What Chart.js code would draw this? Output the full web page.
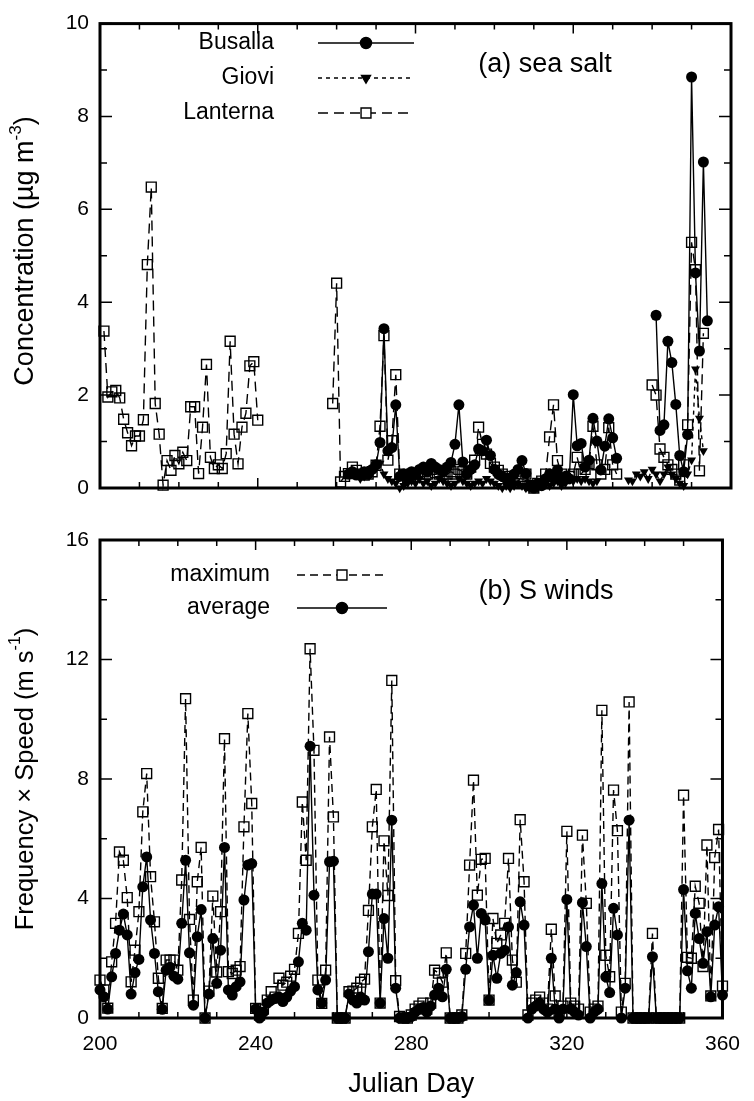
<!DOCTYPE html>
<html>
<head>
<meta charset="utf-8">
<script src="https://cdn.jsdelivr.net/npm/chart.js@4.4.1/dist/chart.umd.min.js"></script>
<style>
  html, body { margin: 0; padding: 0; background: #fff; }
  #wrap { position: relative; width: 754px; height: 1101px; }
  #saltChart { position: absolute; left: 0; top: 0; }
  #windChart { position: absolute; left: 0; top: 515px; }
</style>
</head>
<body>
<div id="wrap">
  <canvas id="saltChart" width="754" height="515"></canvas>
  <canvas id="windChart" width="754" height="586"></canvas>
</div>
<script>
// Font
const FONT = "'Liberation Sans', Arial, Helvetica, sans-serif";

// (a) sea salt, ug m-3, one value per Julian day (null = no sample)
const lanternaStart = 201;
const lanterna = [
  3.38, 1.96, 2.07, 2.1, 1.94, 1.48, 1.19, 0.91, 1.12, 1.12,
  1.47, 4.81, 6.48, 1.82, 1.16, 0.06, 0.59, 0.38, 0.7, 0.52,
  0.77, 0.59, 1.75, 1.75, 0.31, 1.31, 2.66, 0.66, 0.42, 0.5,
  0.42, 0.74, 3.16, 1.16, 0.52, 1.31, 1.61, 2.63, 2.72, 1.46,
  null, null, null, null, null, null, null, null, null, null,
  null, null, null, null, null, null, null, null,
  1.82, 4.41, 0.13, 0.25, 0.31, 0.45, 0.38, 0.3, 0.28, 0.3,
  0.35, 0.49, 1.33, 3.28, 0.6, 1.02, 2.44, 0.3, 0.28, 0.22,
  0.3, 0.25, 0.3, 0.35, 0.3, 0.4, 0.33, 0.3, 0.25, 0.3,
  0.35, 0.3, 0.4, 0.35, 0.3, 0.45, 0.6, 1.31, 0.94, 0.73,
  0.53, 0.45, 0.38, 0.3, 0.25, 0.2, 0.1, 0.15, 0.25, 0.3,
  0.05, 0.0, 0.1, 0.15, 0.3, 1.1, 1.79, 0.59, 0.3, 0.2,
  0.25, 0.3, 0.66, 0.3, 0.4, 0.52, 1.33, 0.5, 0.3, 0.4,
  1.3, 0.5, 0.3,
  null, null, null, null, null, null, null, null,
  2.22, 2.0, 0.84, 0.66, 0.5, 0.4, 0.3, 0.17, 0.5, 1.36,
  5.29, 4.7, 0.37, 3.33
];

const busallaStart = 263;
const busalla = [
  0.3, 0.35, 0.28, 0.3, 0.35, 0.3, 0.4, 0.5, 0.98, 3.43,
  0.8, 0.87, 1.79, 0.25, 0.3, 0.2, 0.35, 0.3, 0.4, 0.45,
  0.35, 0.53, 0.45, 0.4, 0.35, 0.45, 0.55, 0.94, 1.79, 0.56,
  0.3, 0.4, 0.5, 0.84, 0.8, 1.03, 0.7, 0.4, 0.3, 0.25,
  0.2, 0.15, 0.3, 0.4, 0.59, 0.31, 0.05, 0.0, 0.1, 0.05,
  0.2, 0.3, 0.25, 0.39, 0.2, 0.25, 0.2, 2.01, 0.91, 0.96,
  0.45, 0.6, 1.5, 1.01, 0.39, 0.9, 1.49, 1.08, 0.64,
  null, null, null, null, null, null, null, null, null,
  3.72, 1.24, 1.36, 3.16, 2.7, 1.8, 0.7, 0.35, 1.15, 8.85,
  4.63, 2.95, 7.02, 3.6
];

const gioviStart = 266;
const giovi = [
  0.2, 0.25, 0.3, 0.35, 0.5, 0.53, 0.3, 0.2, 0.15, 0.1,
  0.0, 0.05, 0.1, 0.15, 0.1, 0.2, 0.1, 0.15, 0.05, 0.1,
  0.2, 0.15, 0.1, 0.05, 0.1, 0.2, 0.15, 0.1, 0.05, 0.1,
  0.15, 0.1, 0.2, 0.15, 0.1, 0.05, 0.0, 0.05, 0.0, 0.05,
  0.1, 0.05, 0.0, 0.0, 0.05, 0.0, 0.05, 0.1, 0.05, 0.1,
  0.15, 0.05, 0.1, 0.2, 0.15, 0.2, 0.15, 0.2, 0.15, 0.1,
  0.15,
  null, null, null, null, null, null, null,
  0.17, 0.15, 0.3, 0.25, 0.35, 0.2, 0.4, 0.3, 0.15, 0.3,
  0.45, 0.3, 0.2, 0.1, 0.05, 0.3, 0.6, 2.56, 1.5, 0.8
];

// (b) S winds, frequency x speed (m s-1), days 200..360
const windStart = 200;
const windMax = [
  1.27, 0.94, 0.33, 1.88, 3.17, 5.56, 5.28, 4.03, 1.21, 2.27,
  3.56, 6.9, 8.18, 4.73, 3.22, 1.33, 0.32, 1.94, 1.94, 1.94,
  1.6, 4.62, 10.69, 3.3, 0.6, 4.56, 5.71, 0, 0.9, 4.08,
  1.54, 3.56, 9.35, 1.55, 1.49, 1.6, 1.72, 6.4, 10.19, 7.18,
  0.32, 0.1, 0.3, 0.6, 0.88, 0.7, 1.33, 1.1, 1.2, 1.4,
  1.63, 2.83, 7.23, 5.28, 12.36, 8.96, 1.27, 0.49, 1.6, 9.41,
  6.73, 0, 0, 0, 0.88, 0.9, 1.0, 1.2, 1.3, 3.6,
  6.4, 7.65, 0.5, 5.93, 4.1, 11.3, 1.25, 0.05, 0, 0,
  0.1, 0.3, 0.4, 0.5, 0.3, 0.5, 1.6, 1.5, 1.2, 2.18,
  0, 0, 0, 0.1, 2.16, 5.12, 7.96, 4.11, 5.31, 5.34,
  0.6, 3.33, 2.5, 2.78, 3.17, 5.34, 1.94, 1.2, 6.64, 4.56,
  0.1, 0.5, 0.6, 0.7, 0.5, 0.3, 2.97, 0.74, 0.2, 0.4,
  6.25, 0.5, 0.4, 0.3, 6.12, 3.84, 0.2, 0.3, 0.4, 10.3,
  2.1, 1.38, 7.63, 6.27, 0.2, 1.16, 10.58, 0, 0, 0,
  0, 0, 2.83, 0, 0, 0, 0, 0, 0, 0,
  7.46, 2.03, 2.0, 4.41, 3.84, 1.72, 5.79, 0.74, 5.37, 6.31,
  1.07
];
const windAvg = [
  0.94, 0.71, 0.3, 1.38, 2.16, 2.94, 3.48, 2.78, 0.8, 1.52,
  1.96, 4.39, 5.39, 3.28, 2.16, 0.88, 0.29, 1.6, 1.7, 1.4,
  1.3, 3.17, 5.28, 2.18, 0.43, 2.72, 3.63, 0, 0.8, 2.66,
  1.16, 2.27, 5.71, 0.94, 0.77, 1.05, 1.21, 3.95, 5.12, 5.17,
  0.3, 0, 0.2, 0.5, 0.6, 0.65, 0.7, 0.55, 0.7, 0.9,
  1.05, 1.88, 3.17, 2.94, 9.1, 4.11, 0.94, 0.5, 1.27, 5.23,
  5.25, 0, 0, 0, 0.8, 0.6, 0.5, 0.7, 0.6, 2.22,
  4.15, 4.15, 0.5, 3.33, 2.0, 6.62, 1.0, 0, 0, 0,
  0.05, 0.2, 0.3, 0.35, 0.2, 0.4, 0.77, 1.0, 0.71, 1.63,
  0, 0, 0, 0.05, 1.63, 3.05, 3.78, 2.0, 3.5, 3.28,
  0.6, 2.1, 1.33, 2.16, 2.27, 3.05, 1.1, 1.52, 3.89, 3.11,
  0, 0.3, 0.4, 0.5, 0.3, 0.2, 2.0, 0.3, 0, 0.3,
  3.97, 0.3, 0.2, 0.1, 3.86, 2.39, 0, 0.2, 0.3, 4.5,
  1.38, 0.85, 3.67, 2.78, 0, 1.0, 6.62, 0, 0, 0,
  0, 0, 2.05, 0, 0, 0, 0, 0, 0, 0,
  4.3, 1.58, 1.0, 3.5, 2.66, 1.83, 2.89, 0.71, 3.11, 3.72,
  0.77
];

// Turn a start day + daily values into {x, y} points
function toPoints(start, vals) {
  return vals.map((v, i) => ({ x: start + i, y: v }));
}

// Frame, inward ticks, legend, panel label and axis titles
const panelDecor = {
  id: "panelDecor",
  beforeDatasetsDraw(chart, args, opts) {
    const { ctx, chartArea: a } = chart;
    const xs = chart.scales.x;
    const ys = chart.scales.y;
    ctx.save();
    ctx.strokeStyle = "#000";
    ctx.lineWidth = 1.5;
    ctx.beginPath();
    for (let v = xs.min; v <= xs.max; v += 10) {
      const px = xs.getPixelForValue(v);
      const len = v % 40 === 0 ? 10 : 6;
      ctx.moveTo(px, a.bottom);
      ctx.lineTo(px, a.bottom - len);
      ctx.moveTo(px, a.top);
      ctx.lineTo(px, a.top + len);
    }
    for (let v = ys.min; v <= ys.max; v += opts.yMinor) {
      const py = ys.getPixelForValue(v);
      const len = v % opts.yMajor === 0 ? 12 : 7;
      ctx.moveTo(a.left, py);
      ctx.lineTo(a.left + len, py);
      ctx.moveTo(a.right, py);
      ctx.lineTo(a.right - len, py);
    }
    ctx.stroke();
    ctx.lineWidth = 3;
    ctx.strokeRect(a.left, a.top, a.right - a.left, a.bottom - a.top);
    ctx.restore();
  },
  afterDraw(chart, args, opts) {
    const { ctx, chartArea: a } = chart;
    ctx.save();
    ctx.fillStyle = "#000";
    ctx.strokeStyle = "#000";
    ctx.textBaseline = "middle";

    // legend rows
    ctx.font = "23px " + FONT;
    opts.legend.forEach((row) => {
      ctx.textAlign = "right";
      ctx.fillText(row.text, row.textX, row.y);
      ctx.setLineDash(row.dash);
      ctx.lineWidth = 1.4;
      ctx.beginPath();
      ctx.moveTo(row.x0, row.y);
      ctx.lineTo(row.x1, row.y);
      ctx.stroke();
      ctx.setLineDash([]);
      ctx.fillStyle = row.fill;
      Chart.helpers.drawPoint(ctx, {
        pointStyle: row.style,
        radius: row.radius,
        rotation: row.rotation || 0,
        borderWidth: 1.4,
      }, (row.x0 + row.x1) / 2, row.y);
      ctx.fillStyle = "#000";
    });

    // panel label
    ctx.font = "27px " + FONT;
    ctx.textAlign = "center";
    ctx.fillText(opts.label, opts.labelX, opts.labelY);

    // rotated y title with superscript
    ctx.translate(opts.yTitleX, opts.yTitleY);
    ctx.rotate(-Math.PI / 2);
    const mainFont = opts.yTitleSize + "px " + FONT;
    const supFont = Math.round(opts.yTitleSize * 0.63) + "px " + FONT;
    ctx.font = mainFont;
    const w1 = ctx.measureText(opts.yTitle[0]).width;
    const w3 = ctx.measureText(opts.yTitle[2]).width;
    ctx.font = supFont;
    const w2 = ctx.measureText(opts.yTitle[1]).width;
    let x = -(w1 + w2 + w3) / 2;
    ctx.textAlign = "left";
    ctx.font = mainFont;
    ctx.fillText(opts.yTitle[0], x, 0);
    x += w1;
    ctx.font = supFont;
    ctx.fillText(opts.yTitle[1], x, -10);
    x += w2;
    ctx.font = mainFont;
    ctx.fillText(opts.yTitle[2], x, 0);
    ctx.restore();

    if (opts.xTitle) {
      ctx.save();
      ctx.font = "27px " + FONT;
      ctx.fillStyle = "#000";
      ctx.textAlign = "center";
      ctx.textBaseline = "middle";
      ctx.fillText(opts.xTitle, (a.left + a.right) / 2, opts.xTitleY);
      ctx.restore();
    }
  },
};

function lineSet(label, points, style) {
  return Object.assign({
    label: label,
    data: points,
    borderColor: "#000",
    borderWidth: 1.4,
    pointBorderColor: "#000",
    tension: 0,
    spanGaps: false,
    clip: 12,
  }, style);
}

const circleStyle = {
  pointStyle: "circle",
  pointRadius: 5.5,
  pointBackgroundColor: "#000",
  pointBorderWidth: 0,
};
const squareStyle = {
  pointStyle: "rect",
  pointRadius: 7,
  pointBackgroundColor: "rgba(0,0,0,0)",
  pointBorderWidth: 1.4,
};
const triangleStyle = {
  pointStyle: "triangle",
  pointRadius: 5.2,
  pointRotation: 180,
  pointBackgroundColor: "#000",
  pointBorderWidth: 0,
};

function yAxis(max, step) {
  return {
    min: 0,
    max: max,
    ticks: { stepSize: step, color: "#000", padding: 11, font: { family: FONT, size: 21 } },
    grid: { display: false, drawTicks: false },
    border: { display: false },
    afterFit(scale) { scale.width = 100; },
  };
}

// Top panel: sea salt
new Chart(document.getElementById("saltChart"), {
  type: "line",
  data: {
    datasets: [
      lineSet("Busalla", toPoints(busallaStart, busalla), Object.assign({ order: 0 }, circleStyle)),
      lineSet("Giovi", toPoints(gioviStart, giovi), Object.assign({ order: 1, borderDash: [4, 4] }, triangleStyle)),
      lineSet("Lanterna", toPoints(lanternaStart, lanterna), Object.assign({ order: 2, borderDash: [10, 6] }, squareStyle)),
    ],
  },
  options: {
    responsive: false,
    animation: false,
    devicePixelRatio: 1,
    layout: { padding: { top: 14, right: 23, bottom: 27, left: 0 } },
    plugins: {
      legend: { display: false },
      tooltip: { enabled: false },
      panelDecor: {
        yMinor: 1,
        yMajor: 2,
        label: "(a) sea salt",
        labelX: 545,
        labelY: 65,
        yTitle: ["Concentration (\u00b5g m", "-3", ")"],
        yTitleSize: 27,
        yTitleX: 26,
        yTitleY: 251,
        legend: [
          { text: "Busalla", textX: 274, y: 43, x0: 318, x1: 414, dash: [], style: "circle", radius: 5.5, fill: "#000" },
          { text: "Giovi", textX: 274, y: 78, x0: 318, x1: 414, dash: [4, 4], style: "triangle", radius: 5.2, rotation: 180, fill: "#000" },
          { text: "Lanterna", textX: 274, y: 113, x0: 318, x1: 414, dash: [10, 6], style: "rect", radius: 7, fill: "#fff" },
        ],
      },
    },
    scales: {
      x: { type: "linear", min: 200, max: 360, display: false },
      y: yAxis(10, 2),
    },
  },
  plugins: [panelDecor],
});

// Bottom panel: S winds
new Chart(document.getElementById("windChart"), {
  type: "line",
  data: {
    datasets: [
      lineSet("average", toPoints(windStart, windAvg), Object.assign({ order: 0 }, circleStyle)),
      lineSet("maximum", toPoints(windStart, windMax), Object.assign({ order: 1, borderDash: [8, 5] }, squareStyle)),
    ],
  },
  options: {
    responsive: false,
    animation: false,
    devicePixelRatio: 1,
    layout: { padding: { top: 25, right: 23, bottom: 0, left: 0 } },
    plugins: {
      legend: { display: false },
      tooltip: { enabled: false },
      panelDecor: {
        yMinor: 2,
        yMajor: 4,
        label: "(b) S winds",
        labelX: 546,
        labelY: 77,
        yTitle: ["Frequency \u00d7 Speed (m s", "-1", ")"],
        yTitleSize: 25.5,
        yTitleX: 26,
        yTitleY: 264,
        xTitle: "Julian Day",
        xTitleY: 570,
        legend: [
          { text: "maximum", textX: 270, y: 60, x0: 297, x1: 387, dash: [8, 5], style: "rect", radius: 7, fill: "#fff" },
          { text: "average", textX: 270, y: 93, x0: 297, x1: 387, dash: [], style: "circle", radius: 5.5, fill: "#000" },
        ],
      },
    },
    scales: {
      x: {
        type: "linear",
        min: 200,
        max: 360,
        ticks: { stepSize: 40, color: "#000", padding: 14, font: { family: FONT, size: 21 } },
        grid: { display: false, drawTicks: false },
        border: { display: false },
        afterFit(scale) { scale.height = 83; },
      },
      y: yAxis(16, 4),
    },
  },
  plugins: [panelDecor],
});
</script>
</body>
</html>
